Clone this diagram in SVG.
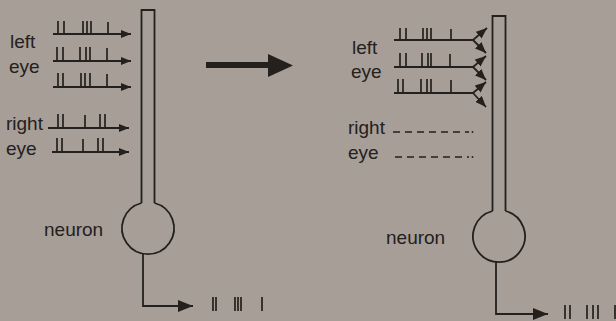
<svg xmlns="http://www.w3.org/2000/svg" width="616" height="321" viewBox="0 0 616 321">
  <style>
    .ln { fill: none; stroke: #24201d; stroke-width: 1.8; }
    .sp { fill: none; stroke: #24201d; stroke-width: 1.7; }
    .dash { fill: none; stroke: #24201d; stroke-width: 1.5; stroke-dasharray: 7 5; }
    .lbl { font-family: "Liberation Sans", Arial, sans-serif; font-size: 19px; fill: #24201d; }
    .hd { fill: #24201d; }
  </style>
  <defs>
    <marker id="tip" viewBox="0 0 10 8" refX="10" refY="4" markerWidth="10" markerHeight="8" markerUnits="userSpaceOnUse" orient="auto">
      <path d="M0 0 L10 4 L0 8 Z" fill="#24201d"/>
    </marker>
    <marker id="fork" viewBox="0 0 11 9" refX="11" refY="4.5" markerWidth="11" markerHeight="9" markerUnits="userSpaceOnUse" orient="auto">
      <path d="M0 0 L11 4.5 L0 9 Z" fill="#24201d"/>
    </marker>
    <marker id="tipBig" viewBox="0 0 15 12" refX="15" refY="6" markerWidth="15" markerHeight="12" markerUnits="userSpaceOnUse" orient="auto">
      <path d="M0 0 L15 6 L0 12 Z" fill="#24201d"/>
    </marker>
  </defs>

  <rect width="616" height="321" fill="#a69e97"/>

  <!-- Before: both eyes drive the neuron -->
  <g id="labels-before">
    <text class="lbl" x="10" y="48">left</text>
    <text class="lbl" x="9" y="73">eye</text>
    <text class="lbl" x="6" y="130">right</text>
    <text class="lbl" x="6" y="155">eye</text>
    <text class="lbl" x="44" y="236">neuron</text>
  </g>

  <g id="neuron-before">
    <path class="ln" d="M141.5 203 V10 H154.5 V203"/>
    <path class="ln" d="M141.5 203 A26 26 0 1 0 154.5 203"/>
  </g>

  <g id="spikes-before">
    <path class="sp" d="M58 34 V21 M64 34 V21 M83 34 V21 M87 34 V21 M91 34 V21 M108 34 V22"/>
    <path class="sp" d="M57 61 V47 M63 61 V47 M80 61 V47 M86 61 V47 M90 61 V47 M107 61 V48"/>
    <path class="sp" d="M58 87 V73 M63 87 V73 M81 87 V73 M85 87 V73 M90 87 V73 M107 87 V74"/>
    <path class="sp" d="M58 128 V114 M63 128 V114 M85 128 V115 M100 128 V114 M105 128 V114"/>
    <path class="sp" d="M57 152 V138 M62 152 V138 M83 152 V139 M98 152 V138 M103 152 V138"/>
    <path class="sp" d="M213 311 V297 M216 311 V297 M235 311 V297 M238 311 V297 M241 311 V297 M262 311 V297"/>
  </g>

  <!-- Transition arrow -->
  <g id="change-arrow">
    <rect x="206" y="62" width="64" height="6" class="hd"/>
    <path class="hd" d="M268 54 L293 65.5 L268 77 Z"/>
  </g>

  <!-- After: only the left eye drives the neuron -->
  <g id="labels-after">
    <text class="lbl" x="352" y="54">left</text>
    <text class="lbl" x="351" y="78">eye</text>
    <text class="lbl" x="348" y="134">right</text>
    <text class="lbl" x="348" y="159">eye</text>
    <text class="lbl" x="386" y="244">neuron</text>
  </g>

  <g id="neuron-after">
    <path class="ln" d="M492.5 211 V16 H505.5 V211"/>
    <path class="ln" d="M492.5 211 A26 26 0 1 0 505.5 211"/>
  </g>

  <g id="spikes-after">
    <path class="sp" d="M400 40 V28 M406 40 V28 M423 40 V28 M427 40 V28 M431 40 V28 M451 40 V29"/>
    <path class="sp" d="M400 67 V53 M406 67 V53 M422 67 V53 M428 67 V53 M431 67 V53 M450 67 V54"/>
    <path class="sp" d="M398 93 V79 M403 93 V79 M421 93 V79 M427 93 V79 M431 93 V79 M451 93 V80"/>
    <path class="sp" d="M565 319 V305 M570 319 V305 M587 319 V305 M593 319 V305 M598 319 V305 M615 319 V305"/>
  </g>

  <g id="connectors">
    <!-- inputs, before -->
    <path class="ln" d="M53 34 H131" marker-end="url(#tip)"/>
    <path class="ln" d="M53 61 H131" marker-end="url(#tip)"/>
    <path class="ln" d="M53 87 H131" marker-end="url(#tip)"/>
    <path class="ln" d="M48 128 H129" marker-end="url(#tip)"/>
    <path class="ln" d="M52 152 H129" marker-end="url(#tip)"/>
    <!-- output, before -->
    <path class="ln" d="M143 254 V306 H193" marker-end="url(#tipBig)"/>

    <!-- inputs, after: each fibre forks near the dendrite -->
    <path class="ln" d="M394 40 H473"/>
    <path class="ln" d="M473 40 L487 28" marker-end="url(#fork)"/>
    <path class="ln" d="M473 40 L486 53" marker-end="url(#fork)"/>
    <path class="ln" d="M394 67 H473"/>
    <path class="ln" d="M473 67 L486 56" marker-end="url(#fork)"/>
    <path class="ln" d="M473 67 L486 80" marker-end="url(#fork)"/>
    <path class="ln" d="M394 93 H473"/>
    <path class="ln" d="M473 93 L486 82" marker-end="url(#fork)"/>
    <path class="ln" d="M473 93 L486 107" marker-end="url(#fork)"/>
    <!-- silenced right eye -->
    <path class="dash" d="M393 132 H469"/>
    <path class="dash" d="M395 157 H469"/>
    <circle cx="472.5" cy="132" r="0.9" class="hd"/>
    <circle cx="472.5" cy="157" r="0.9" class="hd"/>
    <!-- output, after -->
    <path class="ln" d="M496 262 V314 H548" marker-end="url(#tipBig)"/>
  </g>
</svg>
